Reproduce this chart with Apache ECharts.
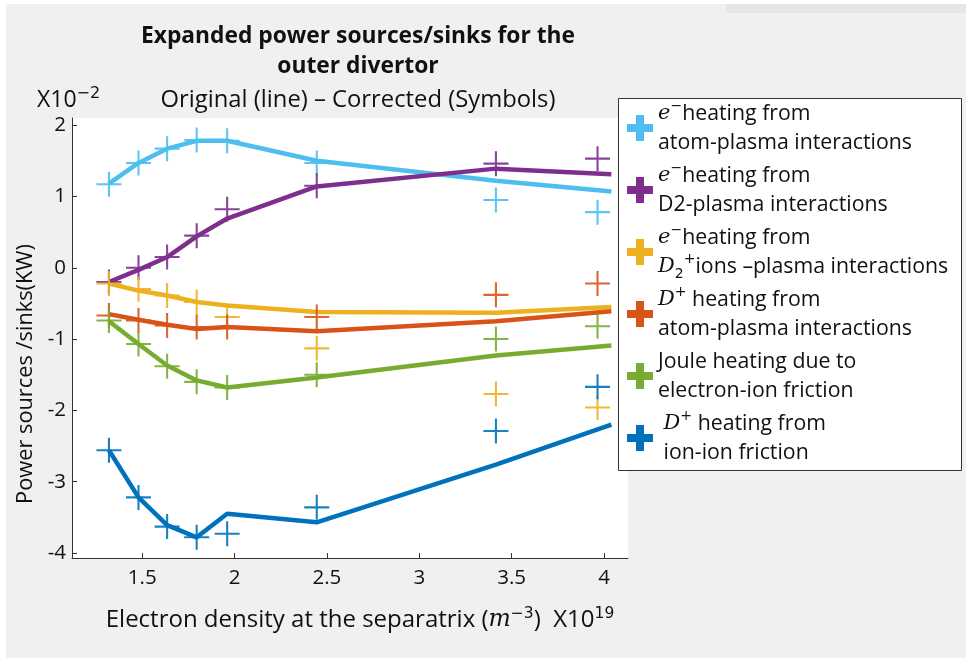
<!DOCTYPE html>
<html>
<head>
<meta charset="utf-8">
<script src="https://cdn.jsdelivr.net/npm/echarts@6/dist/echarts.min.js"></script>
<style>
  html, body { margin: 0; padding: 0; background: #fff; }
  #chart { width: 966px; height: 658px; }
</style>
</head>
<body>
<div id="chart"></div>
<script>
// electron density at the separatrix (x10^19 m^-3)
const lineDensity = [1.32, 1.48, 1.635, 1.795, 1.96, 2.445, 3.415, 4.04];
const markDensity = [1.32, 1.48, 1.635, 1.795, 1.96, 2.445, 3.415, 3.965];

// power sources / sinks (x10^-2 kW): original = line, corrected = symbols
const eAtomLine = [1.18, 1.47, 1.67, 1.78, 1.78, 1.50, 1.22, 1.07];
const eAtomMark = [1.17, 1.47, 1.67, 1.79, 1.78, 1.47, 0.95, 0.78];
const eD2Line = [-0.20, -0.03, 0.15, 0.44, 0.69, 1.14, 1.39, 1.31];
const eD2Mark = [-0.20, 0.00, 0.15, 0.45, 0.82, 1.15, 1.46, 1.53];
const eD2ionLine = [-0.22, -0.32, -0.39, -0.48, -0.53, -0.62, -0.63, -0.55];
const eD2ionMark = [-0.22, -0.30, -0.39, -0.48, -0.69, -1.13, -1.77, -1.96];
const dAtomLine = [-0.65, -0.73, -0.80, -0.86, -0.83, -0.89, -0.75, -0.61];
const dAtomMark = [-0.67, -0.74, -0.81, -0.83, -0.83, -0.69, -0.38, -0.22];
const jouleLine = [-0.75, -1.07, -1.37, -1.58, -1.68, -1.54, -1.23, -1.09];
const jouleMark = [-0.74, -1.07, -1.38, -1.60, -1.68, -1.50, -1.00, -0.82];
const ionIonLine = [-2.56, -3.22, -3.61, -3.78, -3.45, -3.57, -2.76, -2.20];
const ionIonMark = [-2.56, -3.22, -3.63, -3.78, -3.73, -3.36, -2.29, -1.67];

const names = ['eAtom', 'eD2', 'eD2ion', 'dAtom', 'joule', 'ionIon'];
const legendLabels = [
  '{mi|e}{sup|−}heating from\natom-plasma interactions',
  '{mi|e}{sup|−}heating from\nD2-plasma interactions',
  '{mi|e}{sup|−}heating from\n{mi|D}{sub|2}{sup|+}ions –plasma interactions',
  '{mi|D}{sup|+} heating from\natom-plasma interactions',
  'Joule heating due to\nelectron-ion friction',
  ' {mi|D}{sup|+} heating from\n ion-ion friction'
];
const colors = ['#4DBEEE', '#7E2F8E', '#EDB120', '#D95319', '#77AC30', '#0072BD'];
const lineValues = [eAtomLine, eD2Line, eD2ionLine, dAtomLine, jouleLine, ionIonLine];
const markValues = [eAtomMark, eD2Mark, eD2ionMark, dAtomMark, jouleMark, ionIonMark];

const xTicks = [1.5, 2, 2.5, 3, 3.5, 4];
const yTicks = [-4, -3, -2, -1, 0, 1, 2];

const thinPlus = 'path://M11,0H13V11H24V13H13V24H11V13H0V11H11Z';
const thickPlus = 'path://M9,0H17V9H26V17H17V26H9V17H0V9H9Z';
const font = 'Open Sans';

const pairs = (xs, ys) => xs.map((x, i) => [x, ys[i]]);

const series = [];
names.forEach((n, i) => {
  series.push({
    name: n + '-line',
    type: 'line',
    data: pairs(lineDensity, lineValues[i]),
    showSymbol: false,
    lineStyle: { color: colors[i], width: 4.5 },
    itemStyle: { color: colors[i] },
    z: 2
  });
});
names.forEach((n, i) => {
  series.push({
    name: n,
    type: 'scatter',
    data: pairs(markDensity, markValues[i]),
    symbol: thinPlus,
    symbolSize: 25,
    itemStyle: { color: colors[i], opacity: 0.9 },
    z: 3
  });
});

const richMath = {
  mi: { fontFamily: 'DejaVu Serif', fontStyle: 'italic', fontSize: 21, lineHeight: 29, color: '#111' },
  sup: { fontFamily: 'DejaVu Sans', fontSize: 14, lineHeight: 17, verticalAlign: 'top', color: '#111' },
  sub: { fontFamily: 'DejaVu Sans', fontSize: 14, lineHeight: 12, verticalAlign: 'bottom', color: '#111' }
};

const chart = echarts.init(document.getElementById('chart'));
chart.setOption({
  backgroundColor: '#f0f0f0',
  animation: false,
  grid: {
    left: 72, right: 338, top: 118, bottom: 100,
    show: true, backgroundColor: '#fff', borderWidth: 0
  },
  xAxis: {
    type: 'value',
    min: 1.12, max: 4.13,
    splitLine: { show: false },
    axisLine: { show: true, onZero: false, lineStyle: { color: '#333', width: 1 } },
    axisTick: { show: true, inside: true, length: 5, customValues: xTicks, lineStyle: { color: '#333' } },
    axisLabel: { customValues: xTicks, fontFamily: font, fontSize: 20.5, color: '#111', margin: 10 },
    name: 'Electron density at the separatrix ({mi|m}{sup|−3})  X10{sup|19}',
    nameLocation: 'middle',
    nameGap: 48,
    nameTextStyle: {
      fontFamily: font, fontSize: 24, color: '#111', lineHeight: 28, padding: [0, 0, 0, 20],
      rich: {
        mi: { fontFamily: 'DejaVu Serif', fontStyle: 'italic', fontSize: 23.5, lineHeight: 28, color: '#111' },
        sup: { fontFamily: 'DejaVu Sans', fontSize: 15.5, lineHeight: 16, verticalAlign: 'top', color: '#111' }
      }
    }
  },
  yAxis: {
    type: 'value',
    min: -4.07, max: 2.1,
    splitLine: { show: false },
    axisLine: { show: true, onZero: false, lineStyle: { color: '#333', width: 1 } },
    axisTick: { show: true, inside: true, length: 5, customValues: yTicks, lineStyle: { color: '#333' } },
    axisLabel: { customValues: yTicks, fontFamily: font, fontSize: 20.5, color: '#111', margin: 6 },
    name: 'Power sources /sinks(KW)',
    nameLocation: 'middle',
    nameGap: 31,
    nameTextStyle: { fontFamily: font, fontSize: 21.8, color: '#111', padding: [0, 72, 0, 0] }
  },
  legend: {
    orient: 'vertical',
    left: 618, top: 98,
    padding: [1, 8, 4, 9],
    itemWidth: 26, itemHeight: 26,
    itemGap: 4, itemTextGap: 7,
    selectedMode: false,
    z: 10,
    data: names.map((n, i) => ({ name: n, icon: thickPlus, itemStyle: { color: colors[i], opacity: 1 } })),
    formatter: (n) => legendLabels[names.indexOf(n)],
    textStyle: { fontFamily: font, fontSize: 21.3, color: '#111', lineHeight: 29, rich: richMath }
  },
  graphic: [
    { type: 'rect', shape: { x: 0, y: 0, width: 966, height: 4 }, style: { fill: '#fff' }, z: 0 },
    { type: 'rect', shape: { x: 0, y: 0, width: 6, height: 658 }, style: { fill: '#fff' }, z: 0 },
    { type: 'rect', shape: { x: 726, y: 4, width: 240, height: 9 }, style: { fill: '#e6e6e6' }, z: 0 },
    { type: 'rect', shape: { x: 618.5, y: 98.5, width: 343, height: 372 },
      style: { fill: '#fff', stroke: '#333', lineWidth: 1 }, z: 1 },
    { type: 'text', x: 358, y: 37, z: 5,
      style: { text: 'Expanded power sources/sinks for the', font: 'bold 22.8px "Open Sans"', fill: '#111',
        textAlign: 'center', textVerticalAlign: 'middle' } },
    { type: 'text', x: 358, y: 67, z: 5,
      style: { text: 'outer divertor', font: 'bold 22.8px "Open Sans"', fill: '#111',
        textAlign: 'center', textVerticalAlign: 'middle' } },
    { type: 'text', x: 358, y: 100, z: 5,
      style: { text: 'Original (line) – Corrected (Symbols)', font: '23.8px "Open Sans"', fill: '#111',
        textAlign: 'center', textVerticalAlign: 'middle' } },
    { type: 'text', x: 37, y: 100, z: 5,
      style: { text: 'X10{s|−2}', font: '23px "Open Sans"', fill: '#111', lineHeight: 28,
        textAlign: 'left', textVerticalAlign: 'middle',
        rich: { s: { fontFamily: 'DejaVu Sans', fontSize: 16, lineHeight: 16, verticalAlign: 'top', fill: '#111' } } } }
  ],
  series: series
});
</script>
</body>
</html>
